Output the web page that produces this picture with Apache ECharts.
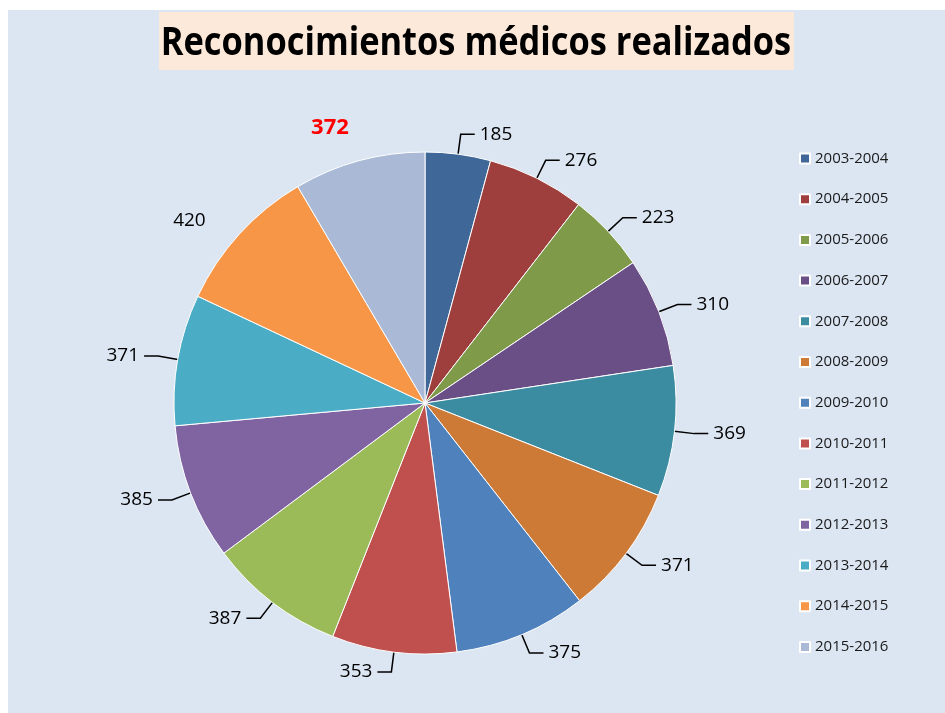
<!DOCTYPE html>
<html>
<head>
<meta charset="utf-8">
<script src="https://cdn.jsdelivr.net/npm/echarts@6/dist/echarts.min.js"></script>
<style>
  html, body { margin: 0; padding: 0; background: #ffffff; }
  #chart { position: absolute; left: 8px; top: 10px; width: 937px; height: 703px; }
</style>
</head>
<body>
<div id="chart"></div>
<script>
var categories = ['2003-2004', '2004-2005', '2005-2006', '2006-2007', '2007-2008', '2008-2009',
    '2009-2010', '2010-2011', '2011-2012', '2012-2013', '2013-2014', '2014-2015', '2015-2016'];
var values = [185, 276, 223, 310, 369, 371, 375, 353, 387, 385, 371, 420, 372];
var colors = ['#3F6898', '#9E3F3D', '#7F9A48', '#6A4F86', '#3B8BA1', '#CC7A36', '#4F81BD',
    '#C0504D', '#9BBB59', '#8064A2', '#4BACC6', '#F79646', '#AAB9D6'];
var titleText = 'Reconocimientos médicos realizados';

var font = "'Open Sans', 'Noto Sans', sans-serif";
var chart = echarts.init(document.getElementById('chart'));

var data = categories.map(function (name, i) {
    var item = { name: name, value: values[i] };
    if (i === categories.length - 1) {
        // último curso destacado en rojo
        item.label = { color: '#ff0000', fontWeight: 'bold', fontSize: 22 };
        item.labelLine = { show: false };
    }
    if (i === 11) {
        item.labelLine = { show: false };
    }
    return item;
});

var option = {
    backgroundColor: '#dce6f2',
    color: colors,
    graphic: [{
        type: 'rect',
        left: 151,
        top: 2,
        shape: { width: 635, height: 58 },
        style: { fill: '#fde9d9' },
        z: 10
    }, {
        type: 'text',
        x: 468,
        y: 34,
        scaleX: 0.86,
        style: {
            text: titleText,
            fontFamily: font,
            fontWeight: 'bold',
            fontSize: 40,
            fill: '#000000',
            align: 'center',
            verticalAlign: 'middle'
        },
        z: 11
    }],
    legend: {
        orient: 'vertical',
        left: 786,
        top: 136,
        itemWidth: 10,
        itemHeight: 10,
        itemGap: 25.7,
        icon: 'rect',
        data: categories,
        textStyle: { fontFamily: font, fontSize: 15, color: '#1a1a1a' }
    },
    series: [{
        type: 'pie',
        center: [417, 393],
        radius: 251,
        startAngle: 90,
        clockwise: true,
        avoidLabelOverlap: false,
        data: data,
        itemStyle: { borderColor: '#ffffff', borderWidth: 1 },
        label: {
            show: true,
            formatter: '{c}',
            fontFamily: font,
            fontSize: 19,
            color: '#000000'
        },
        labelLine: {
            show: true,
            length: 20,
            length2: 14,
            lineStyle: { color: '#000000', width: 1.5 }
        },
        labelLayout: function (params) {
            if (params.dataIndex === categories.length - 1) {
                return { dx: 14, dy: -14 };
            }
            return {};
        },
        emphasis: { scale: false }
    }]
};

chart.setOption(option);
</script>
</body>
</html>
